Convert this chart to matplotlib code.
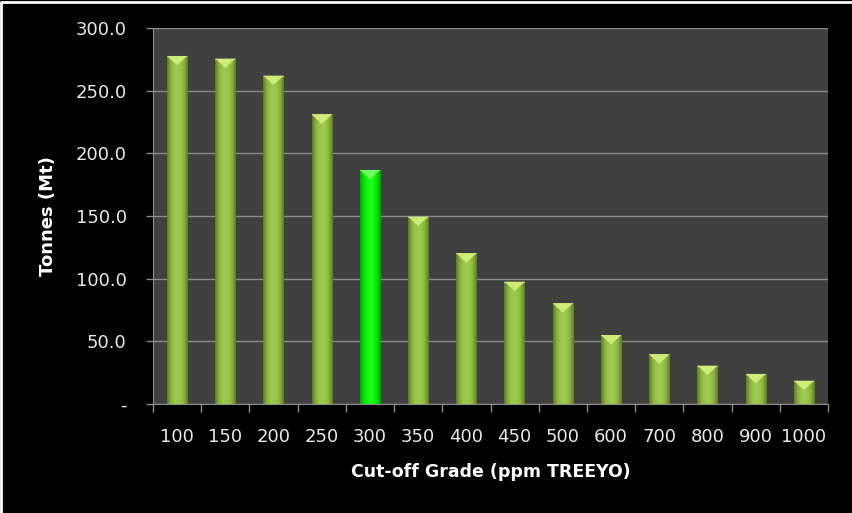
import numpy as np
import matplotlib.pyplot as plt
from matplotlib.patches import Polygon
from matplotlib.lines import Line2D
from matplotlib.colors import LinearSegmentedColormap

# cut-off grade (ppm TREEYO) and tonnage (Mt)
grades = ["100", "150", "200", "250", "300", "350", "400", "450",
          "500", "600", "700", "800", "900", "1000"]
tonnes = [277.7, 275.6, 262.0, 231.0, 186.7, 149.5, 120.2, 97.6,
          80.3, 55.0, 39.6, 30.6, 24.0, 18.6]
highlight = "300"

y_ticks = [0, 50, 100, 150, 200, 250, 300]
y_tick_labels = ["-", "50.0", "100.0", "150.0", "200.0", "250.0", "300.0"]

normal_cmap = LinearSegmentedColormap.from_list(
    "normal", ["#5c7a24", "#86b03c", "#98c44c", "#9fcb53",
               "#98c44c", "#86b03c", "#5c7a24"])
hot_cmap = LinearSegmentedColormap.from_list(
    "hot", ["#00a800", "#00e000", "#10f810", "#20ff20",
            "#10f810", "#00e000", "#00a800"])


def shade_bar(ax, bar, cmap, cap_color):
    """Fill a bar with a horizontal gradient and draw the bevelled top."""
    x0 = bar.get_x()
    w = bar.get_width()
    h = bar.get_height()
    grad = np.linspace(0, 1, 64).reshape(1, -1)
    im = ax.imshow(grad, cmap=cmap, aspect="auto", extent=(x0, x0 + w, 0, h),
                   zorder=3, interpolation="bilinear")
    im.set_clip_path(bar)
    # top bevel: light triangle pointing down
    depth = 7.5
    tri = Polygon([(x0, h), (x0 + w, h), (x0 + w / 2, h - depth)],
                  closed=True, facecolor=cap_color, edgecolor="none",
                  zorder=4)
    ax.add_patch(tri)
    strip = Polygon([(x0, h), (x0 + w, h), (x0 + w, h - 0.8), (x0, h - 0.8)],
                    closed=True, facecolor=cap_color, alpha=0.7,
                    edgecolor="none", zorder=4)
    ax.add_patch(strip)


def main():
    fig = plt.figure(figsize=(8.53, 5.13), dpi=100, facecolor="black")
    ax = fig.add_axes([0.1794, 0.2125, 0.7913, 0.7329])
    ax.set_facecolor("#404040")

    x = np.arange(len(grades))
    bars = ax.bar(x, tonnes, width=0.42, color="none", edgecolor="none",
                  zorder=3)
    for g, bar in zip(grades, bars):
        if g == highlight:
            shade_bar(ax, bar, hot_cmap, "#70ff60")
        else:
            shade_bar(ax, bar, normal_cmap, "#cdec78")

    ax.set_xlim(-0.5, len(grades) - 0.5)
    ax.set_ylim(0, 300)

    ax.set_yticks(y_ticks)
    ax.set_yticklabels(y_tick_labels)
    ax.yaxis.grid(True, color="#8c8c8c", linewidth=1.0, zorder=1)
    ax.set_axisbelow(True)

    ax.set_xticks(x)
    ax.set_xticklabels(grades)
    ax.set_xticks(np.arange(len(grades) + 1) - 0.5, minor=True)
    ax.tick_params(axis="x", which="major", length=0, pad=17,
                   labelsize=13, labelcolor="#e8e8e8")
    ax.tick_params(axis="x", which="minor", length=6, width=1,
                   color="#8c8c8c", direction="out")
    ax.tick_params(axis="y", which="major", length=5, width=1,
                   color="#8c8c8c", pad=14, labelsize=13,
                   labelcolor="#e8e8e8")

    for side in ["top", "right"]:
        ax.spines[side].set_visible(False)
    ax.spines["left"].set_color("#8c8c8c")
    ax.spines["bottom"].set_color("#8c8c8c")

    ax.set_ylabel("Tonnes (Mt)", color="white", fontsize=13,
                  fontweight="bold")
    ax.yaxis.set_label_coords(-0.142, 0.5)
    ax.set_xlabel("Cut-off Grade (ppm TREEYO)", color="white",
                  fontsize=12.5, fontweight="bold")
    ax.xaxis.set_label_coords(0.5, -0.158)

    # thin white edge along the top and left of the picture
    fig.lines.append(Line2D([0.001, 0.001, 1.0], [0.0, 0.997, 0.997],
                            transform=fig.transFigure, color="white",
                            linewidth=2.0))

    fig.savefig("out.png", dpi=100, facecolor="black")


if __name__ == "__main__":
    main()
